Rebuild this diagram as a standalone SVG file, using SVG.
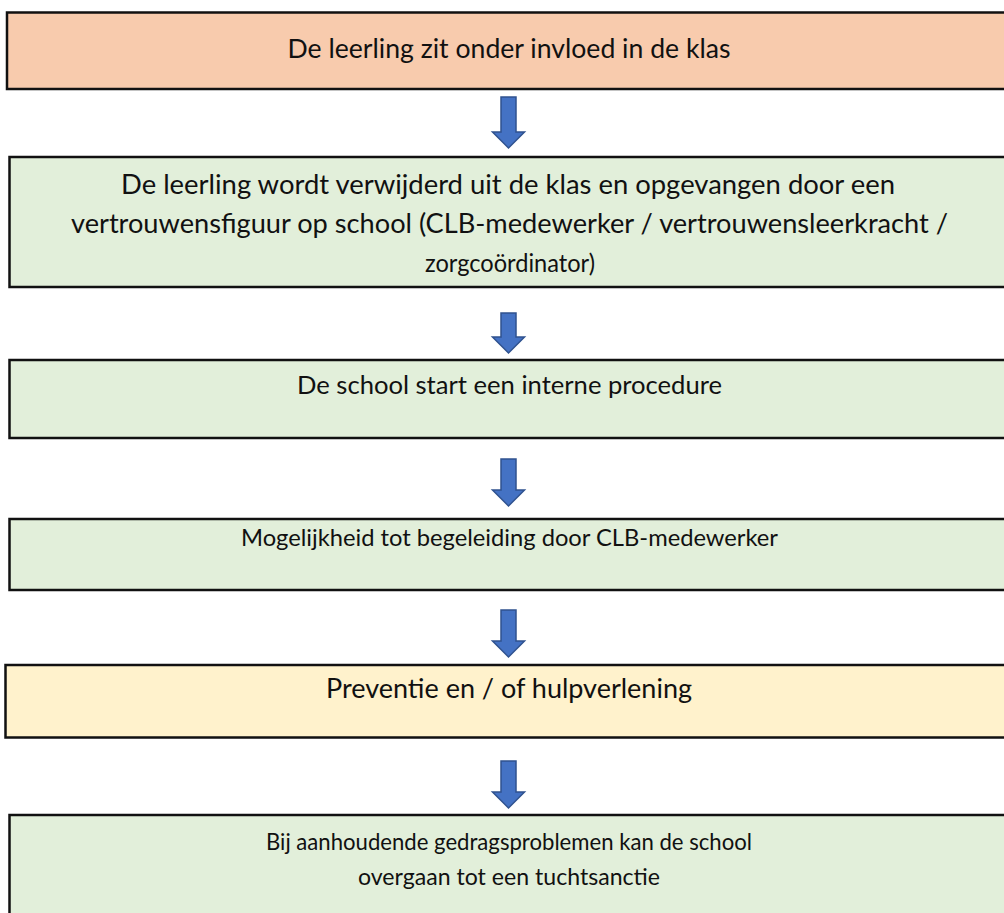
<svg xmlns="http://www.w3.org/2000/svg" width="1004" height="913" viewBox="0 0 1004 913">
<defs>
<style>
.box{stroke:#111;stroke-width:2.5}
.orange{fill:#f8cbad}
.green{fill:#e2efda}
.yellow{fill:#fff2cc}
.t{font-family:Lato,"Liberation Sans",sans-serif;fill:#111;text-anchor:middle}
.arrow{fill:#4472c4;stroke:#2f528f;stroke-width:1.5}
</style>
</defs>
<rect width="1004" height="913" fill="#fff"/>
<g id="n1">
<rect class="box orange" x="7" y="12.5" width="1010" height="76.5"/>
<text class="t" x="509" y="58" font-size="26.5" textLength="443" lengthAdjust="spacingAndGlyphs">De leerling zit onder invloed in de klas</text>
</g>
<g id="n2">
<rect class="box green" x="9.5" y="157" width="1010" height="130"/>
<text class="t" x="508" y="194" font-size="27" textLength="774" lengthAdjust="spacingAndGlyphs">De leerling wordt verwijderd uit de klas en opgevangen door een</text>
<text class="t" x="509.5" y="233" font-size="27" textLength="877" lengthAdjust="spacingAndGlyphs">vertrouwensfiguur op school (CLB-medewerker / vertrouwensleerkracht /</text>
<text class="t" x="510" y="272" font-size="25.5" textLength="170" lengthAdjust="spacingAndGlyphs">zorgcoördinator)</text>
</g>
<g id="n3">
<rect class="box green" x="9.5" y="360" width="1010" height="78"/>
<text class="t" x="509.5" y="394" font-size="25.5" textLength="425" lengthAdjust="spacingAndGlyphs">De school start een interne procedure</text>
</g>
<g id="n4">
<rect class="box green" x="9.5" y="519" width="1010" height="71"/>
<text class="t" x="509.5" y="546" font-size="24" textLength="537" lengthAdjust="spacingAndGlyphs">Mogelijkheid tot begeleiding door CLB-medewerker</text>
</g>
<g id="n5">
<rect class="box yellow" x="5.5" y="665" width="1010" height="72.5"/>
<text class="t" x="509" y="698" font-size="27" textLength="366" lengthAdjust="spacingAndGlyphs">Preventie en / of hulpverlening</text>
</g>
<g id="n6">
<rect class="box green" x="9.5" y="815" width="1010" height="120"/>
<text class="t" x="509" y="850" font-size="23" textLength="486" lengthAdjust="spacingAndGlyphs">Bij aanhoudende gedragsproblemen kan de school</text>
<text class="t" x="509" y="885" font-size="23" textLength="302" lengthAdjust="spacingAndGlyphs">overgaan tot een tuchtsanctie</text>
</g>
<g id="connectors">
<path class="arrow" d="M501,97 H516 V132 H524.5 L508.5,148 L492.5,132 H501 Z"/>
<path class="arrow" d="M501,313 H516 V337 H524.5 L508.5,353 L492.5,337 H501 Z"/>
<path class="arrow" d="M501,459 H516 V490 H524.5 L508.5,506 L492.5,490 H501 Z"/>
<path class="arrow" d="M501,610 H516 V641 H524.5 L508.5,657 L492.5,641 H501 Z"/>
<path class="arrow" d="M501,761 H516 V792 H524.5 L508.5,808 L492.5,792 H501 Z"/>
</g>
</svg>
